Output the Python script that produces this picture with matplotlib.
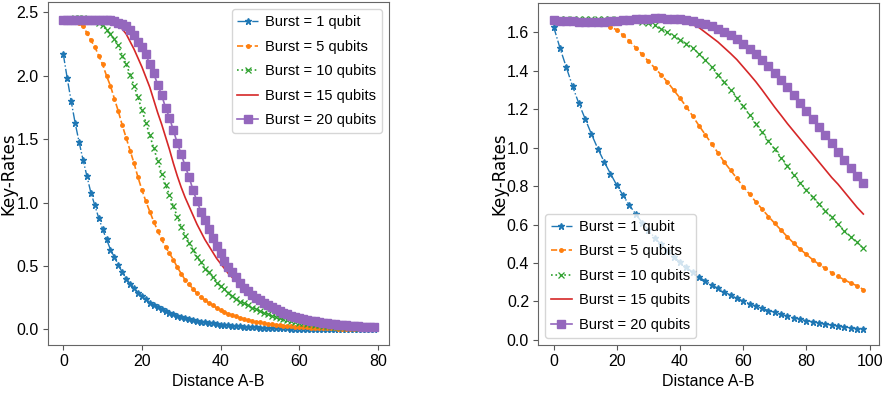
import matplotlib
matplotlib.use("Agg")
import matplotlib.pyplot as plt
import numpy as np

# distances (left: every 1 unit, right: every 2 units)
dist_left = list(range(0, 80))
dist_right = list(range(0, 100, 2))

labels = ["Burst = 1 qubit", "Burst = 5 qubits", "Burst = 10 qubits",
          "Burst = 15 qubits", "Burst = 20 qubits"]

# left panel key rates
left_b1 = [2.17, 1.98, 1.80, 1.63, 1.48, 1.34, 1.21, 1.08, 0.98, 0.88,
           0.79, 0.71, 0.63, 0.57, 0.51, 0.45, 0.40, 0.36, 0.33, 0.29,
           0.26, 0.24, 0.21, 0.19, 0.175, 0.16, 0.145, 0.13, 0.12, 0.11,
           0.10, 0.09, 0.082, 0.075, 0.068, 0.062, 0.056, 0.051, 0.047, 0.043,
           0.039, 0.035, 0.032, 0.029, 0.027, 0.024, 0.022, 0.020, 0.018, 0.017,
           0.015, 0.014, 0.013, 0.012, 0.011, 0.010, 0.009, 0.008, 0.0075, 0.007,
           0.006, 0.0055, 0.005, 0.0045, 0.004, 0.0037, 0.0034, 0.003, 0.0028, 0.0025,
           0.0023, 0.0021, 0.0019, 0.0017, 0.0016, 0.0014, 0.0013, 0.0012, 0.0011, 0.001]
left_b5 = [2.44, 2.44, 2.44, 2.43, 2.42, 2.39, 2.34, 2.28, 2.23, 2.16,
           2.09, 2.00, 1.92, 1.82, 1.72, 1.61, 1.51, 1.41, 1.31, 1.20,
           1.10, 1.01, 0.93, 0.85, 0.78, 0.71, 0.65, 0.60, 0.55, 0.49,
           0.44, 0.39, 0.355, 0.32, 0.285, 0.255, 0.23, 0.21, 0.19, 0.17,
           0.15, 0.137, 0.124, 0.113, 0.103, 0.092, 0.083, 0.075, 0.068, 0.061,
           0.055, 0.050, 0.045, 0.041, 0.037, 0.033, 0.030, 0.027, 0.024, 0.022,
           0.020, 0.018, 0.016, 0.015, 0.013, 0.012, 0.011, 0.010, 0.009, 0.008,
           0.0073, 0.0066, 0.006, 0.0054, 0.0049, 0.0044, 0.004, 0.0036, 0.0033, 0.003]
left_b10 = [2.45, 2.45, 2.45, 2.46, 2.46, 2.46, 2.45, 2.45, 2.43, 2.42,
            2.40, 2.36, 2.33, 2.29, 2.24, 2.16, 2.09, 2.01, 1.92, 1.83,
            1.73, 1.63, 1.53, 1.43, 1.33, 1.23, 1.14, 1.06, 0.97, 0.89,
            0.81, 0.74, 0.68, 0.63, 0.57, 0.53, 0.48, 0.45, 0.41, 0.37,
            0.34, 0.32, 0.29, 0.26, 0.24, 0.22, 0.205, 0.19, 0.17, 0.16,
            0.145, 0.13, 0.12, 0.105, 0.097, 0.088, 0.08, 0.072, 0.066, 0.06,
            0.054, 0.049, 0.045, 0.041, 0.037, 0.034, 0.031, 0.028, 0.025, 0.023,
            0.021, 0.019, 0.017, 0.016, 0.014, 0.013, 0.012, 0.011, 0.010, 0.009]
left_b15 = [2.44, 2.44, 2.44, 2.44, 2.44, 2.44, 2.44, 2.44, 2.44, 2.44,
            2.44, 2.44, 2.43, 2.42, 2.40, 2.37, 2.33, 2.27, 2.21, 2.14,
            2.07, 1.99, 1.91, 1.81, 1.71, 1.62, 1.52, 1.42, 1.31, 1.21,
            1.12, 1.04, 0.97, 0.90, 0.83, 0.77, 0.71, 0.66, 0.61, 0.56,
            0.52, 0.48, 0.44, 0.41, 0.38, 0.35, 0.32, 0.295, 0.27, 0.25,
            0.225, 0.205, 0.185, 0.17, 0.155, 0.14, 0.125, 0.115, 0.105, 0.095,
            0.086, 0.078, 0.071, 0.065, 0.059, 0.054, 0.049, 0.045, 0.041, 0.037,
            0.034, 0.031, 0.028, 0.026, 0.024, 0.022, 0.020, 0.018, 0.017, 0.015]
left_b20 = [2.44, 2.44, 2.44, 2.44, 2.44, 2.44, 2.44, 2.44, 2.44, 2.44,
            2.44, 2.44, 2.44, 2.43, 2.42, 2.41, 2.39, 2.36, 2.32, 2.27,
            2.23, 2.17, 2.09, 2.02, 1.93, 1.85, 1.75, 1.67, 1.57, 1.47,
            1.38, 1.29, 1.20, 1.10, 1.01, 0.93, 0.86, 0.79, 0.72, 0.66,
            0.60, 0.54, 0.49, 0.45, 0.41, 0.37, 0.33, 0.30, 0.27, 0.25,
            0.23, 0.21, 0.19, 0.175, 0.16, 0.145, 0.13, 0.12, 0.11, 0.10,
            0.09, 0.083, 0.076, 0.07, 0.064, 0.058, 0.053, 0.049, 0.045, 0.041,
            0.038, 0.035, 0.032, 0.03, 0.027, 0.025, 0.023, 0.021, 0.02, 0.018]

# right panel key rates
right_b1 = [1.63, 1.52, 1.42, 1.32, 1.23, 1.15, 1.07, 0.995, 0.927, 0.865,
            0.805, 0.752, 0.70, 0.655, 0.61, 0.57, 0.532, 0.497, 0.465, 0.434,
            0.405, 0.378, 0.352, 0.328, 0.306, 0.287, 0.268, 0.25, 0.233, 0.217,
            0.202, 0.189, 0.176, 0.164, 0.153, 0.143, 0.133, 0.124, 0.116, 0.108,
            0.101, 0.094, 0.088, 0.082, 0.077, 0.072, 0.067, 0.063, 0.059, 0.055]
right_b5 = [1.662, 1.662, 1.662, 1.662, 1.662, 1.661, 1.66, 1.655, 1.645, 1.63,
            1.612, 1.585, 1.555, 1.52, 1.485, 1.45, 1.415, 1.38, 1.342, 1.30,
            1.258, 1.213, 1.165, 1.115, 1.068, 1.02, 0.974, 0.925, 0.883, 0.84,
            0.798, 0.758, 0.718, 0.68, 0.642, 0.606, 0.571, 0.536, 0.503, 0.472,
            0.445, 0.417, 0.393, 0.372, 0.349, 0.33, 0.313, 0.296, 0.282, 0.262]
right_b10 = [1.668, 1.668, 1.668, 1.668, 1.668, 1.668, 1.668, 1.668, 1.668, 1.667,
             1.667, 1.666, 1.665, 1.662, 1.656, 1.648, 1.636, 1.618, 1.60, 1.582,
             1.562, 1.541, 1.518, 1.49, 1.458, 1.42, 1.38, 1.34, 1.302, 1.26,
             1.216, 1.17, 1.125, 1.08, 1.035, 0.991, 0.948, 0.905, 0.86, 0.818,
             0.78, 0.742, 0.706, 0.671, 0.637, 0.602, 0.568, 0.537, 0.507, 0.477]
right_b15 = [1.665, 1.665, 1.665, 1.665, 1.665, 1.665, 1.665, 1.665, 1.665, 1.665,
             1.665, 1.665, 1.665, 1.665, 1.665, 1.665, 1.665, 1.664, 1.662, 1.66,
             1.657, 1.65, 1.64, 1.625, 1.60, 1.575, 1.55, 1.52, 1.49, 1.458,
             1.42, 1.382, 1.343, 1.30, 1.255, 1.21, 1.168, 1.125, 1.085, 1.045,
             1.005, 0.965, 0.925, 0.885, 0.845, 0.81, 0.77, 0.73, 0.69, 0.655]
right_b20 = [1.662, 1.66, 1.658, 1.657, 1.656, 1.655, 1.655, 1.655, 1.656, 1.658,
             1.66, 1.663, 1.666, 1.668, 1.67, 1.672, 1.673, 1.673, 1.672, 1.67,
             1.667, 1.663, 1.657, 1.65, 1.643, 1.632, 1.619, 1.603, 1.584, 1.563,
             1.54, 1.515, 1.488, 1.458, 1.424, 1.39, 1.354, 1.315, 1.275, 1.233,
             1.19, 1.15, 1.108, 1.065, 1.022, 0.978, 0.935, 0.895, 0.855, 0.815]

styles = [
    dict(color="tab:blue", linestyle="-.", marker="*", markersize=5, lw=1.0),
    dict(color="tab:orange", linestyle="--", marker=".", markersize=5, lw=1.2),
    dict(color="tab:green", linestyle=":", marker="x", markersize=5, lw=1.2, mew=0.9),
    dict(color="tab:red", linestyle="-", lw=1.2),
    dict(color="tab:purple", linestyle="-", marker="s", markersize=6, lw=1.2),
]

# reference text looks narrow, Liberation Sans is the slimmest installed face
plt.rcParams["font.family"] = ["Liberation Sans", "DejaVu Sans"]

fig = plt.figure(figsize=(8.85, 3.96), dpi=100)
ax1 = fig.add_axes([0.054, 0.129, 0.386, 0.866])
ax2 = fig.add_axes([0.608, 0.129, 0.385, 0.864])

for ax, x, series in [(ax1, dist_left, [left_b1, left_b5, left_b10, left_b15, left_b20]),
                      (ax2, dist_right, [right_b1, right_b5, right_b10, right_b15, right_b20])]:
    for y, lab, st in zip(series, labels, styles):
        ax.plot(x, y, label=lab, **st)
    ax.set_xlabel("Distance A-B", fontsize=11.5)
    ax.set_ylabel("Key-Rates", family="DejaVu Sans", fontsize=12)
    ax.tick_params(labelsize=11.5, pad=3, color="#555555")
    for sp in ax.spines.values():
        sp.set_color("#666666")

ax1.set_yticks([0.0, 0.5, 1.0, 1.5, 2.0, 2.5])
ax2.set_yticks([0.0, 0.2, 0.4, 0.6, 0.8, 1.0, 1.2, 1.4, 1.6])
ax2.set_xticks([0, 20, 40, 60, 80, 100])

ax1.yaxis.set_label_coords(-0.088, 0.5)
ax2.yaxis.set_label_coords(-0.088, 0.5)

ax1.legend(loc="upper right", fontsize=10.5, handlelength=1.4,
           handletextpad=0.5, labelspacing=0.72)
ax2.legend(loc="lower left", fontsize=10.5, handlelength=1.4,
           handletextpad=0.5, labelspacing=0.72)

fig.savefig("out.png", dpi=100)
